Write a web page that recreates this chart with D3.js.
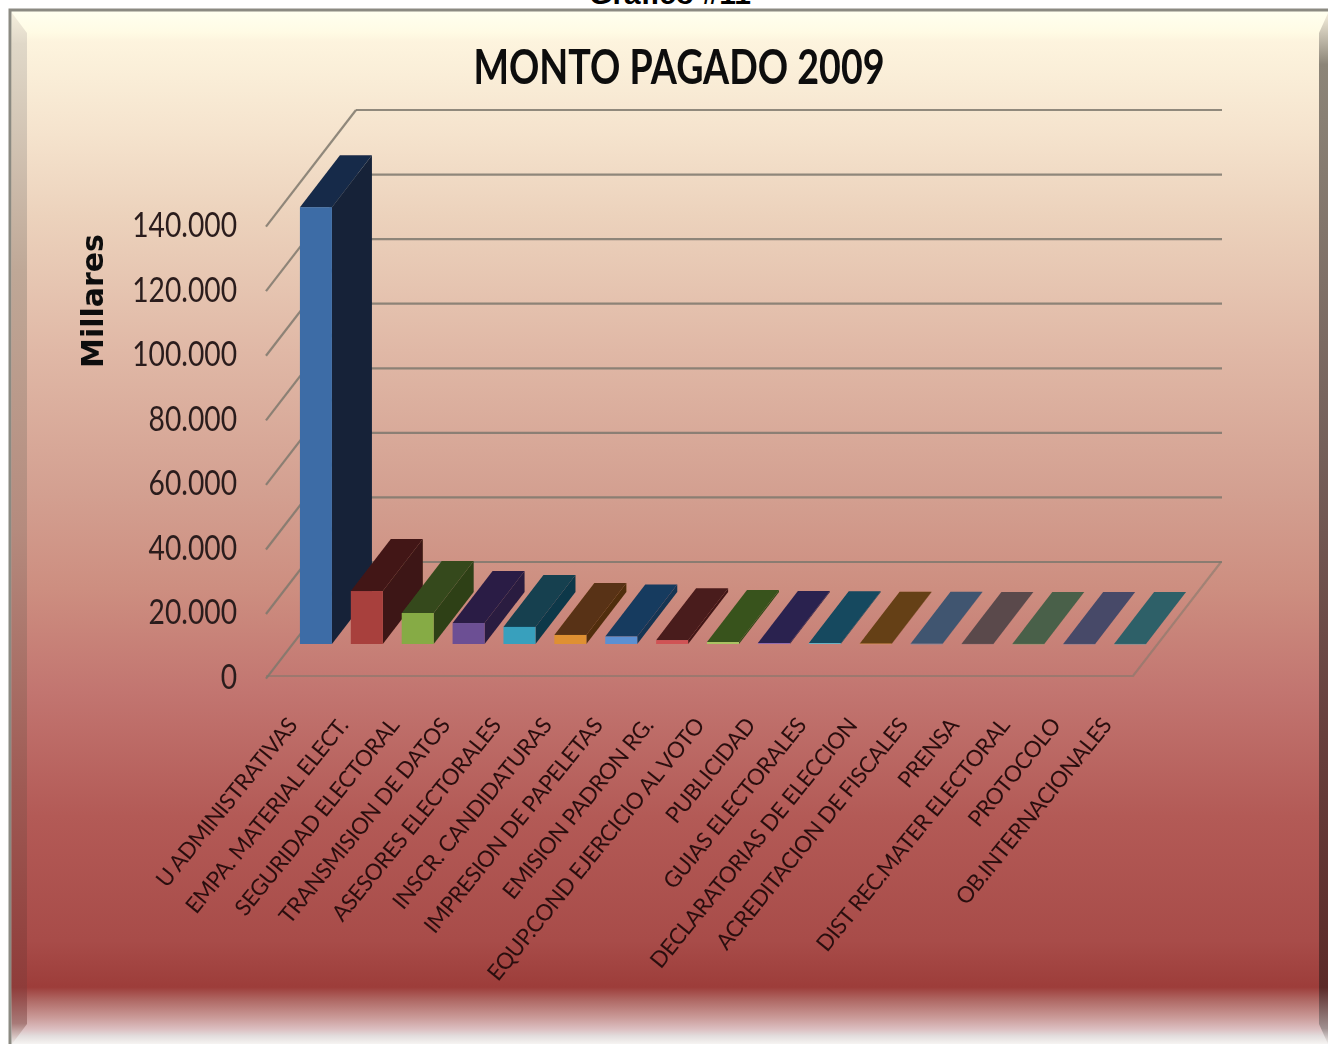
<!DOCTYPE html>
<html>
<head>
<meta charset="utf-8">
<script src="https://cdn.jsdelivr.net/npm/d3@7"></script>
<style>
    html, body { margin: 0; padding: 0; background: #fff; }
    svg { display: block; }
</style>
</head>
<body>
<div id="chart"></div>
<script>
// Values (thousands)
const categories = [
    "U ADMINISTRATIVAS", "EMPA. MATERIAL ELECT.", "SEGURIDAD ELECTORAL", "TRANSMISION DE DATOS",
    "ASESORES ELECTORALES", "INSCR. CANDIDATURAS", "IMPRESION DE PAPELETAS", "EMISION PADRON RG.",
    "EQUP.COND EJERCICIO AL VOTO", "PUBLICIDAD", "GUIAS ELECTORALES", "DECLARATORIAS DE ELECCION",
    "ACREDITACION DE FISCALES", "PRENSA", "DIST REC.MATER ELECTORAL", "PROTOCOLO", "OB.INTERNACIONALES"
];
const montos = [135300, 16400, 9600, 6500, 5300, 2800, 2300, 1200, 600, 300, 250, 100, 60, 30, 30, 20, 20];
const yTicks = [0, 20000, 40000, 60000, 80000, 100000, 120000, 140000];

const frontColors = ["#3d6ca6", "#a83f3d", "#86ab45", "#6c4f94", "#38a0bd", "#df9030", "#5b90d2", "#d05355",
    "#aac562", "#8f6bb0", "#5cc0d8", "#e8a050", "#6a90b0", "#a07878", "#809a70", "#7c7c98", "#609aa0"];
const topColors = ["#172a48", "#421618", "#354a1c", "#2c1f45", "#123f50", "#593312", "#183a5e", "#4a1a1a",
    "#38521c", "#2b2350", "#12485f", "#653f14", "#3f5570", "#5a4a4c", "#4a6048", "#464a68", "#2f6068"];
const sideColors = ["#152339", "#3c1513", "#2e4119", "#291c3f", "#103848", "#512e10", "#163452", "#431616",
    "#324a18", "#272049", "#104055", "#5c3812", "#3a4e66", "#524446", "#445840", "#404460", "#2b585f"];

const width = 1328, height = 1044;

// floor corners of the fake 3d box
const floorLeft = 268, floorRight = 1133, floorY = 676;
const depthX = 88, depthY = -114;
const barShiftX = 22.5, barShiftY = -32;   // where the bars stand on the floor
const barDepthX = 40, barDepthY = -52;
const barWidth = 32;

const x = d3.scaleBand().domain(categories).range([floorLeft, floorRight]);
const y = d3.scaleLinear().domain([0, 140000]).range([floorY, 224]);

const svg = d3.select("#chart").append("svg")
    .attr("width", width)
    .attr("height", height)
    .style("font-family", "Lato, sans-serif");

const defs = svg.append("defs");

function gradient(id, stops) {
    const g = defs.append("linearGradient").attr("id", id)
        .attr("x1", 0).attr("y1", 0)
        .attr("x2", 0).attr("y2", 1);
    stops.forEach(s => g.append("stop").attr("offset", s[0]).attr("stop-color", s[1]));
}

// offsets are fractions of the panel, y 10 to 1044
gradient("panelBg", [
    [0, "#fffff0"], [0.022, "#fffbe4"], [0.03, "#fdf4de"], [0.12, "#f5e3cd"], [0.2, "#ecd2bc"],
    [0.33, "#e0b8a6"], [0.47, "#d39f90"], [0.56, "#cd8e80"], [0.66, "#c27570"], [0.78, "#b35a56"],
    [0.9, "#a84c49"], [0.945, "#9d3d3a"], [0.958, "#b06a66"], [0.975, "#cb9c9a"], [0.986, "#dcc0c2"],
    [0.992, "#e2dcdc"], [1, "#f6f4f2"]
]);
gradient("leftBevel", [
    [0, "#f4eedc"], [0.03, "#e0d8c8"], [0.25, "#bfa897"], [0.5, "#b58b7e"], [0.75, "#9f5a54"],
    [0.945, "#8f3c3a"], [0.98, "#a87a78"], [1, "#f0eeec"]
]);
gradient("rightBevel", [
    [0, "#f4eedc"], [0.05, "#8c8578"], [0.42, "#75605a"], [0.7, "#683f3c"], [0.945, "#5c2a28"],
    [0.985, "#a09090"], [1, "#f0eeec"]
]);

const blur = defs.append("filter").attr("id", "soft")
    .attr("x", "-5%").attr("y", "-5%").attr("width", "110%").attr("height", "110%");
blur.append("feGaussianBlur").attr("stdDeviation", 0.7);

// caption cut off by the top of the page
svg.append("text")
    .attr("x", 670).attr("y", 4)
    .attr("text-anchor", "middle")
    .style("font-family", "'Liberation Sans', sans-serif")
    .style("font-weight", "bold")
    .style("font-size", "30px")
    .text("Gráfico #11");

// panel with bevel
svg.append("rect").attr("x", 10).attr("y", 10).attr("width", width - 10).attr("height", height - 10)
    .attr("fill", "url(#panelBg)");
svg.append("path").attr("d", "M12,13 L27,33 L27,1024 L12,1044 Z").attr("fill", "url(#leftBevel)");
svg.append("path").attr("d", "M1328,13 L1319,33 L1319,1024 L1328,1044 Z").attr("fill", "url(#rightBevel)");
svg.append("path").attr("d", "M10,1044 L10,10 L1328,10")
    .attr("fill", "none").attr("stroke", "#8b8a82").attr("stroke-width", 3);

const plot = svg.append("g").attr("filter", "url(#soft)");

// back wall gridlines and left wall diagonals
const grid = plot.append("g")
    .attr("fill", "none")
    .attr("stroke", "#7e786c")
    .attr("stroke-opacity", 0.85)
    .attr("stroke-width", 2.2);

grid.selectAll(".back").data(yTicks).join("line")
    .attr("class", "back")
    .attr("x1", floorLeft + depthX)
    .attr("x2", floorRight + depthX + 1)
    .attr("y1", d => y(d) + depthY)
    .attr("y2", d => y(d) + depthY);

grid.selectAll(".side").data(yTicks).join("line")
    .attr("class", "side")
    .attr("x1", floorLeft - 2)
    .attr("x2", floorLeft + depthX)
    .attr("y1", d => y(d) + 2.6)
    .attr("y2", d => y(d) + depthY);

grid.append("path")
    .attr("d", `M${floorLeft - 2},${floorY} L${floorRight},${floorY} L${floorRight + depthX},${floorY + depthY}`)
    .attr("stroke-opacity", 0.55);

// bars, left to right so each one covers the side of the one before
const barBase = y(0) + barShiftY;
const barLeft = d => x(d) + (x.bandwidth() - barWidth) / 2 + barShiftX;
const barTop = (v) => y(v) + barShiftY;

const bars = plot.selectAll(".bar").data(categories).join("g").attr("class", "bar");

bars.append("path")
    .attr("fill", (d, i) => sideColors[i])
    .attr("d", (d, i) => {
        const r = barLeft(d) + barWidth, t = barTop(montos[i]);
        return `M${r},${barBase} L${r},${t} L${r + barDepthX},${t + barDepthY} L${r + barDepthX},${barBase + barDepthY} Z`;
    });

bars.append("path")
    .attr("fill", (d, i) => topColors[i])
    .attr("d", (d, i) => {
        const l = barLeft(d), t = barTop(montos[i]);
        return `M${l},${t} L${l + barWidth},${t} L${l + barWidth + barDepthX},${t + barDepthY} L${l + barDepthX},${t + barDepthY} Z`;
    });

bars.append("rect")
    .attr("x", d => barLeft(d))
    .attr("width", barWidth)
    .attr("y", (d, i) => barTop(montos[i]))
    .attr("height", (d, i) => Math.max(barBase - barTop(montos[i]), 0.5))
    .attr("fill", (d, i) => frontColors[i]);

// y axis labels, squeezed sideways like the original
const numFormat = d3.format(",");
plot.selectAll(".ytick").data(yTicks).join("text")
    .attr("class", "ytick")
    .attr("transform", d => `translate(237,${y(d) + 13}) scale(0.83,1)`)
    .attr("text-anchor", "end")
    .attr("fill", "#2a1c1c")
    .style("font-size", "34px")
    .text(d => numFormat(d).replace(/,/g, "."));

plot.append("text")
    .attr("transform", "translate(103,301) rotate(-90)")
    .attr("text-anchor", "middle")
    .attr("fill", "#111")
    .style("font-family", "'DejaVu Sans', sans-serif")
    .style("font-weight", "bold")
    .style("font-size", "30px")
    .text("Millares");

// category labels
plot.selectAll(".xlabel").data(categories).join("text")
    .attr("class", "xlabel")
    .attr("transform", d => `translate(${x(d) + x.bandwidth() / 2 + 5},${floorY + 50}) rotate(-51)`)
    .attr("text-anchor", "end")
    .attr("fill", "#2a0f10")
    .style("font-size", "22.4px")
    .style("letter-spacing", "-0.5px")
    .text(d => d);

// chart title
plot.append("text")
    .attr("transform", "translate(679,84) scale(0.8,1)")
    .attr("text-anchor", "middle")
    .attr("fill", "#0c0c0c")
    .style("font-size", "47px")
    .style("font-weight", "bold")
    .text("MONTO PAGADO 2009");
</script>
</body>
</html>
